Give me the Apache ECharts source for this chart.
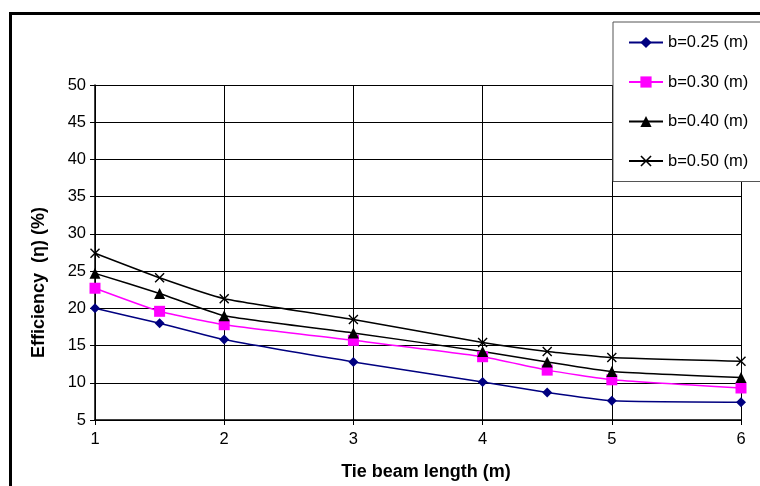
<!DOCTYPE html>
<html>
<head>
<meta charset="utf-8">
<script src="https://cdn.jsdelivr.net/npm/echarts@6/dist/echarts.min.js"></script>
<style>
html,body{margin:0;padding:0;background:#fff;}
#chart{width:760px;height:486px;}
</style>
</head>
<body>
<div id="chart"></div>
<script>
var xValues = [1, 1.5, 2, 3, 4, 4.5, 5, 6];
var seriesNames = ['b=0.25 (m)', 'b=0.30 (m)', 'b=0.40 (m)', 'b=0.50 (m)'];
var b025 = [20.0, 18.0, 15.8, 12.8, 10.1, 8.7, 7.6, 7.4];
var b030 = [22.7, 19.6, 17.8, 15.7, 13.5, 11.7, 10.4, 9.3];
var b040 = [24.7, 22.0, 19.0, 16.7, 14.2, 12.8, 11.5, 10.7];
var b050 = [27.4, 24.1, 21.3, 18.5, 15.4, 14.2, 13.4, 12.9];
var yTicks = [5, 10, 15, 20, 25, 30, 35, 40, 45, 50];
var xTicks = [1, 2, 3, 4, 5, 6];

function pairs(vals) { return xValues.map(function (x, i) { return [x, vals[i]]; }); }

var crossPath = 'path://M0,1L1,0L5,4L9,0L10,1L6,5L10,9L9,10L5,6L1,10L0,9L4,5Z';
var font = 'Liberation Sans, Arial, sans-serif';

var chart = echarts.init(document.getElementById('chart'), null, {renderer: 'canvas'});
chart.setOption({
  backgroundColor: '#fff',
  animation: false,
  textStyle: {fontFamily: font},
  grid: {left: 95, right: 19, top: 85, bottom: 66},
  graphic: [
    {type: 'rect', left: 8, top: 11, z: 0,
     shape: {x: 0, y: 0, width: 780, height: 500},
     style: {fill: 'none', stroke: '#000', lineWidth: 3}}
  ],
  legend: {
    orient: 'vertical',
    left: 613, top: 22,
    padding: [12, 80, 12, 15],
    itemGap: 22.5,
    itemWidth: 34, itemHeight: 14,
    backgroundColor: '#fff',
    borderColor: '#555', borderWidth: 1,
    textStyle: {fontSize: 16.5, color: '#000', fontFamily: font},
    data: seriesNames,
    z: 10
  },
  xAxis: {
    type: 'value', min: 1, max: 6, interval: 1,
    name: 'Tie beam length (m)', nameLocation: 'middle', nameGap: 43,
    nameTextStyle: {fontSize: 18, fontWeight: 'bold', color: '#000', fontFamily: font, padding: [0, 0, 0, 16]},
    axisLine: {lineStyle: {color: '#000', width: 1.5}},
    axisTick: {show: true, length: 5, lineStyle: {color: '#000'}},
    axisLabel: {fontSize: 16.5, color: '#000', margin: 11, fontFamily: font},
    splitLine: {show: true, lineStyle: {color: '#000', width: 1}}
  },
  yAxis: {
    type: 'value', min: 5, max: 50, interval: 5,
    name: 'Efficiency  (\u03b7) (%)', nameLocation: 'middle', nameGap: 47,
    nameTextStyle: {fontSize: 18, fontWeight: 'bold', color: '#000', fontFamily: font, padding: [0, 60, 0, 0]},
    axisLine: {show: true, lineStyle: {color: '#000', width: 1.5}},
    axisTick: {show: true, length: 5, lineStyle: {color: '#000'}},
    axisLabel: {fontSize: 16.5, color: '#000', margin: 9, fontFamily: font},
    splitLine: {show: true, lineStyle: {color: '#000', width: 1}}
  },
  series: [
    {name: seriesNames[0], type: 'line', data: pairs(b025), smooth: 0.15,
     symbol: 'diamond', symbolSize: 10,
     itemStyle: {color: '#000080'}, lineStyle: {color: '#000080', width: 1.5}},
    {name: seriesNames[1], type: 'line', data: pairs(b030), smooth: 0.15,
     symbol: 'rect', symbolSize: 11,
     itemStyle: {color: '#ff00ff'}, lineStyle: {color: '#ff00ff', width: 1.5}},
    {name: seriesNames[2], type: 'line', data: pairs(b040), smooth: 0.15,
     symbol: 'triangle', symbolSize: 11,
     itemStyle: {color: '#000'}, lineStyle: {color: '#000', width: 1.5}},
    {name: seriesNames[3], type: 'line', data: pairs(b050), smooth: 0.15,
     symbol: crossPath, symbolSize: 10,
     itemStyle: {color: '#000'}, lineStyle: {color: '#000', width: 1.5}}
  ]
});
</script>
</body>
</html>
